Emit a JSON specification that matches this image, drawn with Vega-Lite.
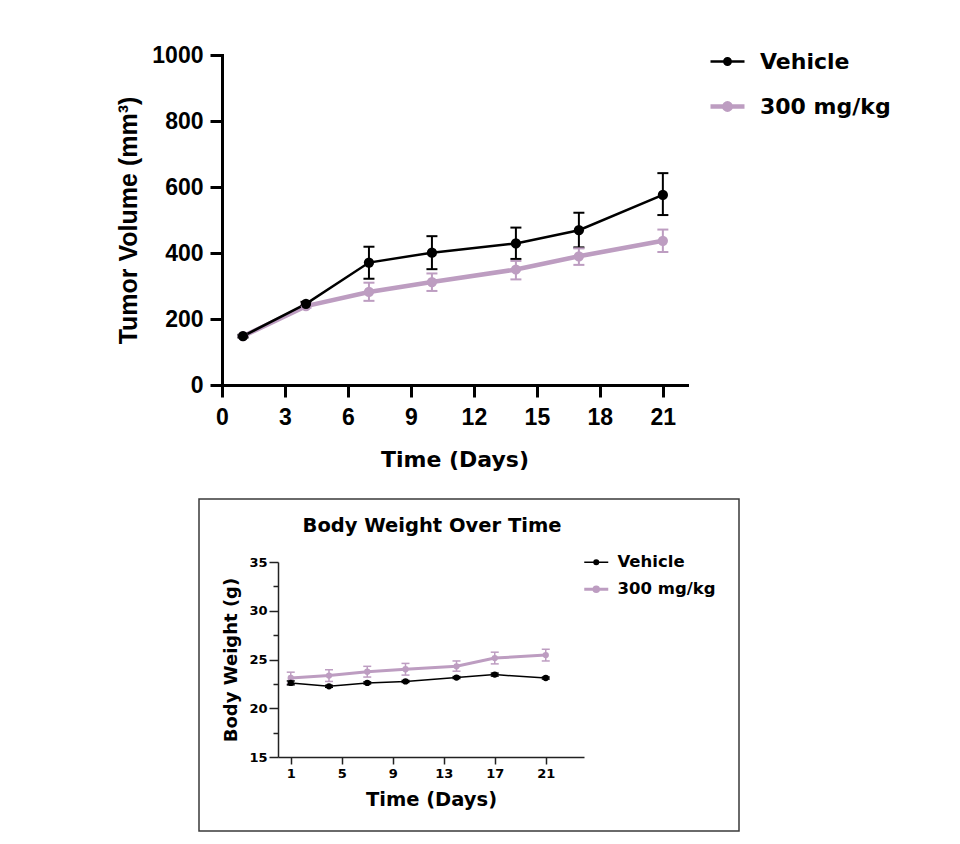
{
  "$schema": "https://vega.github.io/schema/vega-lite/v6.json",
  "background": "white",
  "padding": {"left": 116, "top": 44, "right": 10, "bottom": 5},
  "bounds": "flush",
  "spacing": 114,
  "config": {"view": {"stroke": null}, "font": "Liberation Sans"},
  "resolve": {"scale": {"color": "independent", "strokeWidth": "independent"}, "legend": {"color": "independent"}},
  "vconcat": [
    {
      "width": 488,
      "height": 330,
      "data": {"values": [
        {"group": "300 mg/kg", "day": 1, "mean": 148, "lo": 146, "hi": 150},
        {"group": "300 mg/kg", "day": 4, "mean": 239, "lo": 234, "hi": 244},
        {"group": "300 mg/kg", "day": 7, "mean": 282, "lo": 255, "hi": 310},
        {"group": "300 mg/kg", "day": 10, "mean": 312, "lo": 285, "hi": 338},
        {"group": "300 mg/kg", "day": 14, "mean": 350, "lo": 320, "hi": 376},
        {"group": "300 mg/kg", "day": 17, "mean": 390, "lo": 364, "hi": 414},
        {"group": "300 mg/kg", "day": 21, "mean": 437, "lo": 403, "hi": 471},
        {"group": "Vehicle", "day": 1, "mean": 148, "lo": 144, "hi": 152},
        {"group": "Vehicle", "day": 4, "mean": 246, "lo": 240, "hi": 252},
        {"group": "Vehicle", "day": 7, "mean": 371, "lo": 322, "hi": 419},
        {"group": "Vehicle", "day": 10, "mean": 401, "lo": 351, "hi": 451},
        {"group": "Vehicle", "day": 14, "mean": 429, "lo": 382, "hi": 477},
        {"group": "Vehicle", "day": 17, "mean": 469, "lo": 417, "hi": 522},
        {"group": "Vehicle", "day": 21, "mean": 576, "lo": 515, "hi": 642}
      ]},
      "encoding": {
        "x": {
          "field": "day", "type": "quantitative", "title": "Time (Days)",
          "scale": {"domain": [0, 22.15], "range": [23, 488], "nice": false, "zero": false},
          "axis": {
            "values": [0, 3, 6, 9, 12, 15, 18, 21], "grid": false, "format": "d",
            "domainColor": "#000", "domainWidth": 3, "domainCap": "square",
            "tickColor": "#000", "tickWidth": 3, "tickSize": 12,
            "labelFont": "Liberation Sans", "labelFontSize": 23, "labelFontWeight": "bold", "labelColor": "#000",
            "labelPadding": 9, "labelFlush": false, "labelOverlap": false,
            "titleFont": "DejaVu Sans", "titleFontSize": 22, "titleFontWeight": "bold", "titleColor": "#000", "titlePadding": 20
          }
        },
        "color": {
          "field": "group", "type": "nominal",
          "scale": {"domain": ["Vehicle", "300 mg/kg"], "range": ["#000000", "#bd9dc1"]},
          "legend": {
            "title": null, "orient": "none", "legendX": 516, "legendY": -5, "direction": "vertical",
            "symbolType": "M-1.7,0H1.7M-0.32,0A0.32,0.32,0,1,1,0.32,0A0.32,0.32,0,1,1,-0.32,0Z",
            "symbolSize": 400,
            "labelFont": "DejaVu Sans", "labelFontSize": 22, "labelFontWeight": "bold", "labelColor": "#000",
            "labelOffset": 20, "rowPadding": 21,
            "encode": {"symbols": {"update": {
              "size": {"value": 400},
              "fill": {"signal": "datum.value === 'Vehicle' ? '#000000' : '#bd9dc1'"},
              "stroke": {"signal": "datum.value === 'Vehicle' ? '#000000' : '#bd9dc1'"},
              "strokeWidth": {"signal": "datum.value === 'Vehicle' ? 2.5 : 5"},
              "opacity": {"value": 1}
            }}}
          }
        }
      },
      "layer": [
        {
          "mark": {"type": "rule", "strokeWidth": 2},
          "encoding": {
            "y": {
              "field": "lo", "type": "quantitative", "title": "Tumor Volume (mm³)",
              "scale": {"domain": [0, 1000], "nice": false},
              "axis": {
                "values": [0, 200, 400, 600, 800, 1000], "grid": false, "format": "d",
                "offset": -23,
                "domainColor": "#000", "domainWidth": 3, "domainCap": "square",
                "tickColor": "#000", "tickWidth": 3, "tickSize": 12,
                "labelFont": "Liberation Sans", "labelFontSize": 23, "labelFontWeight": "bold", "labelColor": "#000",
                "labelPadding": 7, "labelFlush": false, "labelOverlap": false,
                "titleFont": "Liberation Sans", "titleFontSize": 25, "titleFontWeight": "bold", "titleColor": "#000", "titlePadding": 10
              }
            },
            "y2": {"field": "hi"}
          }
        },
        {
          "mark": {"type": "tick", "orient": "horizontal", "size": 11, "thickness": 2, "opacity": 1},
          "encoding": {"y": {"field": "lo", "type": "quantitative", "title": "Tumor Volume (mm³)"}}
        },
        {
          "mark": {"type": "tick", "orient": "horizontal", "size": 11, "thickness": 2, "opacity": 1},
          "encoding": {"y": {"field": "hi", "type": "quantitative", "title": "Tumor Volume (mm³)"}}
        },
        {
          "mark": {"type": "line"},
          "encoding": {
            "y": {"field": "mean", "type": "quantitative", "title": "Tumor Volume (mm³)"},
            "strokeWidth": {"field": "group", "type": "nominal", "scale": {"domain": ["Vehicle", "300 mg/kg"], "range": [2.5, 4.5]}, "legend": null}
          }
        },
        {
          "mark": {"type": "point", "filled": true, "opacity": 1, "size": 105},
          "encoding": {
            "y": {"field": "mean", "type": "quantitative", "title": "Tumor Volume (mm³)"}
          }
        }
      ]
    },
    {
      "width": 540,
      "height": 332,
      "view": {"stroke": "#3a3a3a", "strokeWidth": 1.5},
      "title": {
        "text": "Body Weight Over Time", "font": "DejaVu Sans", "fontSize": 19.5, "fontWeight": "bold", "color": "#000",
        "anchor": "middle", "frame": "group", "dx": -37, "offset": -37
      },
      "data": {"values": [
        {"group": "300 mg/kg", "day": 1, "mean": 23.1, "lo": 22.5, "hi": 23.7},
        {"group": "300 mg/kg", "day": 4, "mean": 23.35, "lo": 22.75, "hi": 23.95},
        {"group": "300 mg/kg", "day": 7, "mean": 23.75, "lo": 23.2, "hi": 24.3},
        {"group": "300 mg/kg", "day": 10, "mean": 24.0, "lo": 23.4, "hi": 24.6},
        {"group": "300 mg/kg", "day": 14, "mean": 24.3, "lo": 23.8, "hi": 24.85},
        {"group": "300 mg/kg", "day": 17, "mean": 25.15, "lo": 24.55, "hi": 25.75},
        {"group": "300 mg/kg", "day": 21, "mean": 25.45, "lo": 24.85, "hi": 26.05},
        {"group": "Vehicle", "day": 1, "mean": 22.6, "lo": 22.4, "hi": 22.8},
        {"group": "Vehicle", "day": 4, "mean": 22.25, "lo": 22.15, "hi": 22.35},
        {"group": "Vehicle", "day": 7, "mean": 22.6, "lo": 22.5, "hi": 22.7},
        {"group": "Vehicle", "day": 10, "mean": 22.75, "lo": 22.65, "hi": 22.85},
        {"group": "Vehicle", "day": 14, "mean": 23.15, "lo": 23.05, "hi": 23.25},
        {"group": "Vehicle", "day": 17, "mean": 23.45, "lo": 23.3, "hi": 23.6},
        {"group": "Vehicle", "day": 21, "mean": 23.1, "lo": 23.0, "hi": 23.2}
      ]},
      "encoding": {
        "x": {
          "field": "day", "type": "quantitative", "title": "Time (Days)",
          "scale": {"domain": [0, 24], "range": [79, 385], "nice": false, "zero": false},
          "axis": {
            "values": [1, 5, 9, 13, 17, 21], "grid": false, "offset": -74,
            "domainColor": "#222", "domainWidth": 1.5,
            "tickColor": "#222", "tickWidth": 1.5, "tickSize": 7,
            "labelFont": "DejaVu Sans", "labelFontSize": 13, "labelFontWeight": "bold", "labelColor": "#000",
            "labelPadding": 3, "labelFlush": false, "labelOverlap": false,
            "titleFont": "DejaVu Sans", "titleFontSize": 19.5, "titleFontWeight": "bold", "titleColor": "#000", "titlePadding": 10
          }
        },
        "color": {
          "field": "group", "type": "nominal",
          "scale": {"domain": ["Vehicle", "300 mg/kg"], "range": ["#000000", "#bd9dc1"]},
          "legend": {
            "title": null, "orient": "none", "legendX": 389, "legendY": 55, "direction": "vertical",
            "symbolType": "M-2,0H2M-0.38,0A0.38,0.38,0,1,1,0.38,0A0.38,0.38,0,1,1,-0.38,0Z",
            "symbolSize": 144,
            "labelFont": "DejaVu Sans", "labelFontSize": 16.5, "labelFontWeight": "bold", "labelColor": "#000",
            "labelOffset": 13, "rowPadding": 9,
            "encode": {"symbols": {"update": {
              "size": {"value": 144},
              "fill": {"signal": "datum.value === 'Vehicle' ? '#000000' : '#bd9dc1'"},
              "stroke": {"signal": "datum.value === 'Vehicle' ? '#000000' : '#bd9dc1'"},
              "strokeWidth": {"signal": "datum.value === 'Vehicle' ? 1.5 : 3.5"},
              "opacity": {"value": 1}
            }}}
          }
        }
      },
      "layer": [
        {
          "mark": {"type": "rule", "strokeWidth": 1.5},
          "encoding": {
            "y": {
              "field": "lo", "type": "quantitative", "title": "Body Weight (g)",
              "scale": {"domain": [15, 35], "range": [258, 63], "nice": false, "zero": false},
              "axis": {
                "values": [15, 17.5, 20, 22.5, 25, 27.5, 30, 32.5, 35], "grid": false, "offset": -79,
                "domainColor": "#222", "domainWidth": 1.5,
                "tickColor": "#222", "tickWidth": 1.5,
                "tickSize": {"condition": {"test": "datum.value % 5 === 0", "value": 9}, "value": 5},
                "labelExpr": "datum.value % 5 === 0 ? datum.label : ''",
                "labelFont": "DejaVu Sans", "labelFontSize": 13, "labelFontWeight": "bold", "labelColor": "#000",
                "labelPadding": 2, "labelFlush": false, "labelOverlap": false,
                "titleFont": "DejaVu Sans", "titleFontSize": 18, "titleFontWeight": "bold", "titleColor": "#000", "titlePadding": 8
              }
            },
            "y2": {"field": "hi"}
          }
        },
        {
          "mark": {"type": "tick", "orient": "horizontal", "size": 8, "thickness": 1.5, "opacity": 1},
          "encoding": {"y": {"field": "lo", "type": "quantitative", "title": "Body Weight (g)"}}
        },
        {
          "mark": {"type": "tick", "orient": "horizontal", "size": 8, "thickness": 1.5, "opacity": 1},
          "encoding": {"y": {"field": "hi", "type": "quantitative", "title": "Body Weight (g)"}}
        },
        {
          "mark": {"type": "line"},
          "encoding": {
            "y": {"field": "mean", "type": "quantitative", "title": "Body Weight (g)"},
            "strokeWidth": {"field": "group", "type": "nominal", "scale": {"domain": ["Vehicle", "300 mg/kg"], "range": [1.5, 3]}, "legend": null}
          }
        },
        {
          "mark": {"type": "point", "filled": true, "opacity": 1, "size": 40},
          "encoding": {
            "y": {"field": "mean", "type": "quantitative", "title": "Body Weight (g)"}
          }
        }
      ]
    }
  ]
}
